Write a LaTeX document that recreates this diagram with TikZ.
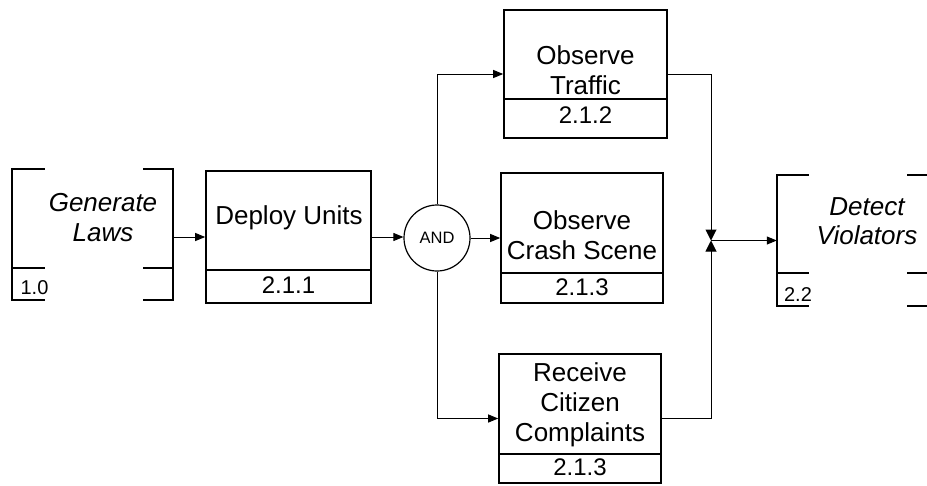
\documentclass[tikz,border=0pt]{standalone}
\usepackage{fontspec}
\setmainfont{Liberation Sans}
\usetikzlibrary{arrows.meta}
\tikzset{
  box/.style={draw, line width=1.6pt, inner sep=0pt, rectangle},
  frame/.style={inner sep=0pt, rectangle},
  brk/.style={line width=1.6pt},
  title/.style={inner sep=0pt, align=center, font=\fontsize{26}{30}\selectfont},
  num/.style={inner sep=0pt, font=\fontsize{24}{28}\selectfont},
  smallnum/.style={inner sep=0pt, font=\fontsize{20}{24}\selectfont},
  andgate/.style={draw, circle, line width=1.2pt, minimum size=66pt, inner sep=0pt, font=\fontsize{16.5}{20}\selectfont},
  conn/.style={line width=1pt},
  arr/.style={conn, -{Triangle[length=10pt,width=8pt]}},
  jarr/.style={conn, -{Triangle[length=11pt,width=11pt]}},
}
\begin{document}
\begin{tikzpicture}[x=1pt,y=-1pt]
\useasboundingbox (0,0) rectangle (927,485);

% Generate Laws (bracketed reference function)
\node[frame, minimum width=161pt, minimum height=131pt] (gen) at (92.5,234.5) {};
\draw[brk] ([xshift=33pt]gen.north west) -- (gen.north west) -- (gen.south west) -- ++(33,0);
\draw[brk] ([yshift=32pt]gen.south west) -- ++(33,0);
\draw[brk] ([xshift=-30pt]gen.north east) -- (gen.north east) -- (gen.south east) -- ++(-30,0);
\draw[brk] ([yshift=32pt]gen.south east) -- ++(-30,0);
\node[title, anchor=north] (genT) at (103,193) {\itshape Generate\\\itshape Laws};
\node[smallnum] (genN) at (34.5,288) {1.0};

% Deploy Units
\node[box, minimum width=165pt, minimum height=132pt] (deploy) at (288.5,237) {};
\draw[brk] ([yshift=34pt]deploy.south west) -- ([yshift=34pt]deploy.south east);
\node[title, anchor=north] (deployT) at (289,205) {Deploy Units};
\node[num] (deployN) at (288.5,285) {2.1.1};

% AND
\node[andgate] (and) at (437,238) {AND};

% Observe Traffic
\node[box, minimum width=163pt, minimum height=128pt] (traffic) at (585.5,74) {};
\draw[brk] ([yshift=40pt]traffic.south west) -- ([yshift=40pt]traffic.south east);
\node[title, anchor=north] (trafficT) at (585.5,45) {Observe\\Traffic};
\node[num] (trafficN) at (585.5,115) {2.1.2};

% Observe Crash Scene
\node[box, minimum width=162pt, minimum height=130pt] (crash) at (582,238) {};
\draw[brk] ([yshift=31pt]crash.south west) -- ([yshift=31pt]crash.south east);
\node[title, anchor=north] (crashT) at (582,210) {Observe\\Crash Scene};
\node[num] (crashN) at (582,287) {2.1.3};

% Receive Citizen Complaints
\node[box, minimum width=162pt, minimum height=129pt] (receive) at (580,418.5) {};
\draw[brk] ([yshift=30pt]receive.south west) -- ([yshift=30pt]receive.south east);
\node[title, anchor=north] (receiveT) at (580,362) {Receive\\Citizen\\Complaints};
\node[num] (receiveN) at (580,467) {2.1.3};

% Detect Violators (bracketed reference function)
\node[frame, minimum width=161pt, minimum height=131pt] (detect) at (857.5,240.5) {};
\draw[brk] ([xshift=32pt]detect.north west) -- (detect.north west) -- (detect.south west) -- ++(32,0);
\draw[brk] ([yshift=33pt]detect.south west) -- ++(32,0);
\draw[brk] ([xshift=-31pt]detect.north east) -- ++(31,0);
\draw[brk] ([xshift=-31pt,yshift=33pt]detect.south east) -- ++(31,0);
\draw[brk] ([xshift=-31pt]detect.south east) -- ++(31,0);
\node[title, anchor=north, font=\fontsize{26}{29}\selectfont] (detectT) at (867,197) {\itshape Detect\\\itshape Violators};
\node[smallnum] (detectN) at (798,295) {2.2};

% junction
\coordinate (j) at (711,240.5);

% connectors
\draw[arr] (gen.east |- deploy.west) -- (deploy.west);
\draw[arr] (deploy.east) -- (deploy.east -| and.west);
\draw[arr] (and.north) |- (traffic.west);
\draw[arr] (and.east) -- (and.east -| crash.west);
\draw[arr] (and.south) |- (receive.west);
\draw[jarr] (traffic.east) -| (j);
\draw[jarr] (receive.east) -| (j);
\draw[arr] (j) -- (j -| detect.west);
\end{tikzpicture}
\end{document}
